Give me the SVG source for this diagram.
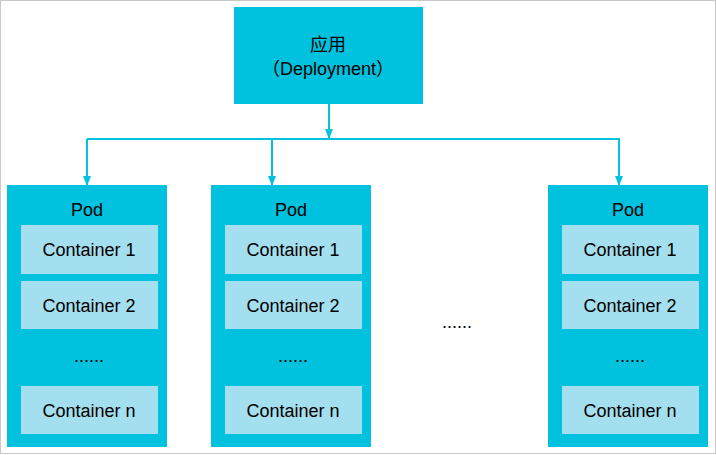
<svg xmlns="http://www.w3.org/2000/svg" width="716" height="455" viewBox="0 0 716 455">
<style>
text{font-family:"Liberation Sans","Noto Sans CJK SC",sans-serif;font-size:18px;fill:#000;text-anchor:middle}
.box{fill:#00C1DE}
.c{fill:#A3DFEE}
.ln{stroke:#00C1DE;stroke-width:2;fill:none}
</style>
<defs><marker id="a" markerWidth="10" markerHeight="8" refX="9" refY="4" orient="auto" markerUnits="userSpaceOnUse"><path d="M0,0L10,4L0,8z" fill="#00C1DE"/></marker></defs>
<rect x="0.5" y="0.5" width="715" height="453" fill="#fff" stroke="#C8C8C8"/>
<g id="app"><rect class="box" x="234" y="7" width="189" height="97"/><text x="328" y="51">应用</text><text x="328" y="75">（Deployment）</text></g>
<g id="connectors">
<path class="ln" d="M329,104V138" marker-end="url(#a)"/>
<path class="ln" d="M87,139H620"/>
<path class="ln" d="M87,139V185" marker-end="url(#a)"/>
<path class="ln" d="M272,139V185" marker-end="url(#a)"/>
<path class="ln" d="M619,139V185" marker-end="url(#a)"/>
</g>
<g id="pod1"><rect class="box" x="7" y="185" width="160" height="262"/><text x="87" y="216">Pod</text>
<rect class="c" x="21" y="225" width="137" height="49"/><text x="89" y="256">Container 1</text>
<rect class="c" x="21" y="281" width="137" height="48"/><text x="89" y="312">Container 2</text>
<text x="89" y="362">......</text>
<rect class="c" x="21" y="386" width="137" height="48"/><text x="89" y="417">Container n</text></g>
<g id="pod2"><rect class="box" x="211" y="185" width="160" height="262"/><text x="291" y="216">Pod</text>
<rect class="c" x="225" y="225" width="137" height="49"/><text x="293" y="256">Container 1</text>
<rect class="c" x="225" y="281" width="137" height="48"/><text x="293" y="312">Container 2</text>
<text x="293" y="362">......</text>
<rect class="c" x="225" y="386" width="137" height="48"/><text x="293" y="417">Container n</text></g>
<text x="457" y="328">......</text>
<g id="pod3"><rect class="box" x="548" y="185" width="160" height="262"/><text x="628" y="216">Pod</text>
<rect class="c" x="562" y="225" width="137" height="49"/><text x="630" y="256">Container 1</text>
<rect class="c" x="562" y="281" width="137" height="48"/><text x="630" y="312">Container 2</text>
<text x="630" y="362">......</text>
<rect class="c" x="562" y="386" width="137" height="48"/><text x="630" y="417">Container n</text></g>
</svg>
